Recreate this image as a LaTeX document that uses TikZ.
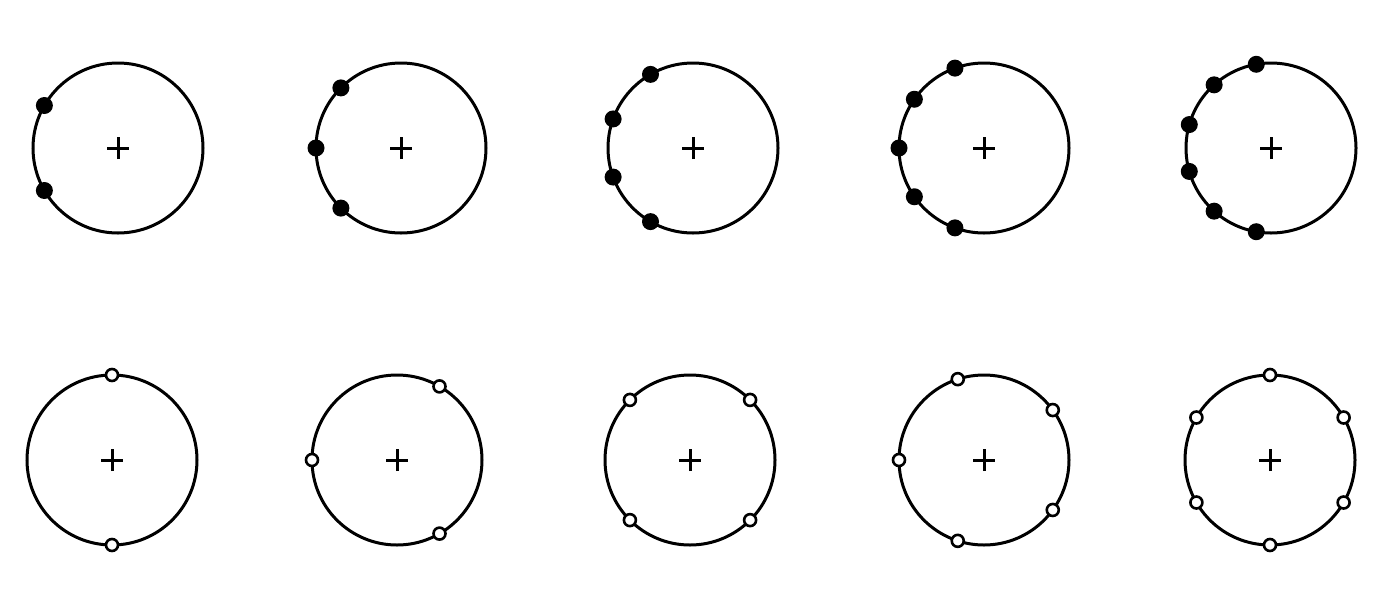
\documentclass[tikz,border=0pt]{standalone}
\usetikzlibrary{positioning}
\tikzset{
  ring/.style={circle, draw=black, line width=3pt, inner sep=0pt, outer sep=0pt, minimum size=170pt},
  fdot/.style={circle, fill=black, inner sep=0pt, minimum size=17pt},
  odot/.style={circle, draw=black, fill=white, line width=2.6pt, inner sep=0pt, minimum size=12pt},
  tick/.style={line width=3pt},
}
% #1 name, #2 x, #3 y, #4 angles of the dots, #5 dot style
\newcommand{\orbit}[5]{%
  \node[ring] (#1) at (#2,#3) {};
  \draw[tick] (#1.center) +(-11pt,0) -- +(11pt,0) (#1.center) +(0,-11pt) -- +(0,11pt);
  \foreach \a [count=\i] in {#4} \node[#5] (#1-\i) at (#1.\a) {};}

\begin{document}
\begin{tikzpicture}[x=1pt, y=-1pt]
  \useasboundingbox[fill=white] (0,0) rectangle (1398,614);
  % filled
  \orbit{f2}{118}{148}{150,210}{fdot}
  \orbit{f3}{401}{148}{135,180,225}{fdot}
  \orbit{f4}{693}{148}{120,160,200,240}{fdot}
  \orbit{f5}{984}{148}{110,145,180,215,250}{fdot}
  \orbit{f6}{1271}{148}{100,132,164,196,228,260}{fdot}
  % open
  \orbit{o2}{112}{460}{90,270}{odot}
  \orbit{o3}{397}{460}{60,180,300}{odot}
  \orbit{o4}{690}{460}{45,135,225,315}{odot}
  \orbit{o5}{984}{460}{36,108,180,252,324}{odot}
  \orbit{o6}{1270}{460}{30,90,150,210,270,330}{odot}
\end{tikzpicture}
\end{document}
